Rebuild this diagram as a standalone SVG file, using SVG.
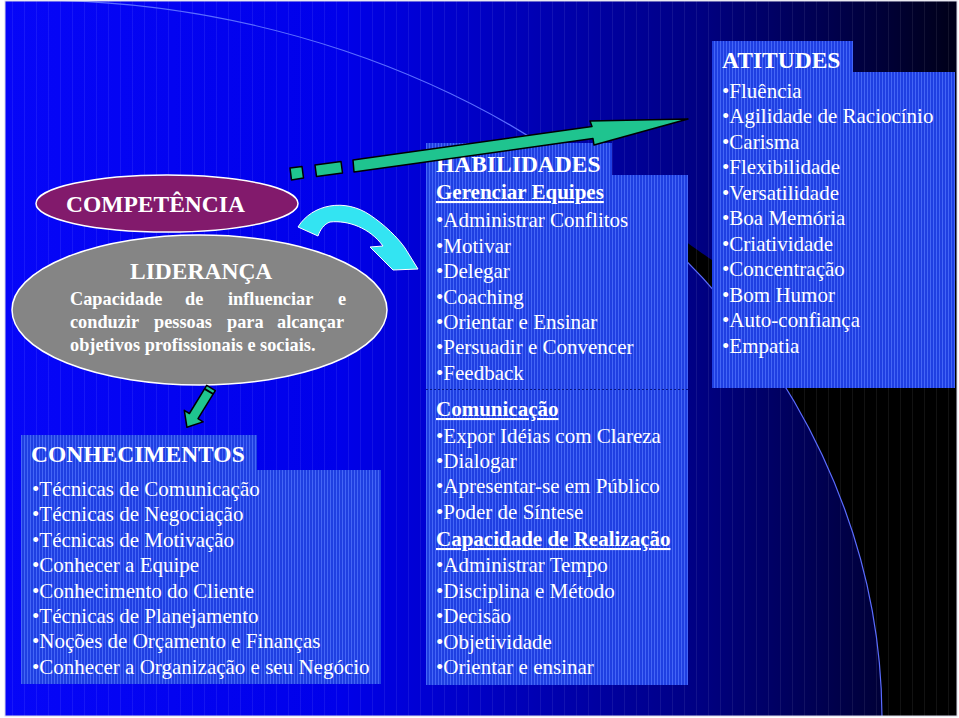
<svg xmlns="http://www.w3.org/2000/svg" width="959" height="718" viewBox="0 0 959 718">
<defs>
<linearGradient id="bg" x1="0" y1="0" x2="1" y2="0">
<stop offset="0" stop-color="#0606f8"/>
<stop offset="0.35" stop-color="#0000ea"/>
<stop offset="0.5" stop-color="#0000c4"/>
<stop offset="0.73" stop-color="#000082"/>
<stop offset="0.9" stop-color="#000040"/>
<stop offset="1" stop-color="#000018"/>
</linearGradient>
<pattern id="bgstripe" width="12" height="10" patternUnits="userSpaceOnUse">
<rect x="0" y="0" width="1" height="10" fill="#ffffff" fill-opacity="0.07"/>
</pattern>
<pattern id="boxfill" width="3" height="10" patternUnits="userSpaceOnUse">
<rect x="0" y="0" width="3" height="10" fill="#1f3fe2"/>
<rect x="0" y="0" width="1" height="10" fill="#4466f6"/>
</pattern>
<clipPath id="slide"><rect x="5" y="1" width="952" height="715"/></clipPath>
<style>
text{font-family:"Liberation Serif","Times New Roman",serif;fill:#ffffff}
.ttl{font-size:23.5px;font-weight:bold}
.it{font-size:21px}
.sub{font-size:21px;font-weight:bold;text-decoration:underline}
.lb{font-size:18.3px;font-weight:bold}
.box{fill:url(#boxfill)}
.grn{fill:#1fc48f;stroke:#000000;stroke-width:1.5;stroke-linejoin:round}
</style>
</defs>
<rect x="0" y="0" width="959" height="718" fill="#ffffff"/>
<g clip-path="url(#slide)">
<rect x="5" y="1" width="952" height="715" fill="url(#bg)"/>
<path d="M600,185 C650,215 690,245 712,260 C780,300 880,300 959,280 L959,718 L882,718 A852,720 0 0,0 600,185 Z" fill="#000000"/>
<rect x="5" y="1" width="952" height="715" fill="url(#bgstripe)"/>
<path d="M30,0 A852,720 0 0,1 882,720" fill="none" stroke="#5a6cff" stroke-width="1.2"/>
</g>
<rect x="5" y="1" width="952" height="715" fill="none" stroke="#d8d8e8" stroke-width="1"/>

<g id="conhecimentos">
<rect class="box" x="21" y="435" width="236" height="36"/>
<rect class="box" x="21" y="470" width="360" height="214"/>
<text class="ttl" x="31" y="462">CONHECIMENTOS</text>
<text class="it" x="32" y="496">•Técnicas de Comunicação</text>
<text class="it" x="32" y="521.4">•Técnicas de Negociação</text>
<text class="it" x="32" y="546.8">•Técnicas de Motivação</text>
<text class="it" x="32" y="572.2">•Conhecer a Equipe</text>
<text class="it" x="32" y="597.6">•Conhecimento do Cliente</text>
<text class="it" x="32" y="623">•Técnicas de Planejamento</text>
<text class="it" x="32" y="648.4">•Noções de Orçamento e Finanças</text>
<text class="it" x="32" y="673.8">•Conhecer a Organização e seu Negócio</text>
</g>

<g id="habilidades">
<rect class="box" x="426" y="143" width="186" height="33"/>
<rect class="box" x="426" y="175" width="262" height="510"/>
<line x1="426" y1="389.5" x2="688" y2="389.5" stroke="#0a1a80" stroke-width="1" stroke-dasharray="2,2"/>
<text class="ttl" x="436" y="172">HABILIDADES</text>
<text class="sub" x="436" y="199">Gerenciar Equipes</text>
<text class="it" x="436" y="227">•Administrar Conflitos</text>
<text class="it" x="436" y="252.5">•Motivar</text>
<text class="it" x="436" y="278">•Delegar</text>
<text class="it" x="436" y="303.5">•Coaching</text>
<text class="it" x="436" y="329">•Orientar e Ensinar</text>
<text class="it" x="436" y="354">•Persuadir e Convencer</text>
<text class="it" x="436" y="379.5">•Feedback</text>
<text class="sub" x="436" y="416">Comunicação</text>
<text class="it" x="436" y="442.5">•Expor Idéias com Clareza</text>
<text class="it" x="436" y="468">•Dialogar</text>
<text class="it" x="436" y="493">•Apresentar-se em Público</text>
<text class="it" x="436" y="518.5">•Poder de Síntese</text>
<text class="sub" x="436" y="546">Capacidade de Realização</text>
<text class="it" x="436" y="572">•Administrar Tempo</text>
<text class="it" x="436" y="597.5">•Disciplina e Método</text>
<text class="it" x="436" y="623">•Decisão</text>
<text class="it" x="436" y="648.5">•Objetividade</text>
<text class="it" x="436" y="674">•Orientar e ensinar</text>
</g>

<g id="atitudes">
<rect class="box" x="712" y="41" width="141" height="32"/>
<rect class="box" x="712" y="72" width="243" height="316"/>
<text class="ttl" x="722" y="68">ATITUDES</text>
<text class="it" x="722" y="97.5">•Fluência</text>
<text class="it" x="722" y="123">•Agilidade de Raciocínio</text>
<text class="it" x="722" y="148.5">•Carisma</text>
<text class="it" x="722" y="174">•Flexibilidade</text>
<text class="it" x="722" y="199.5">•Versatilidade</text>
<text class="it" x="722" y="225">•Boa Memória</text>
<text class="it" x="722" y="250.5">•Criatividade</text>
<text class="it" x="722" y="276">•Concentração</text>
<text class="it" x="722" y="301.5">•Bom Humor</text>
<text class="it" x="722" y="327">•Auto-confiança</text>
<text class="it" x="722" y="352.5">•Empatia</text>
</g>

<g id="lideranca">
<ellipse cx="199.5" cy="310" rx="187.5" ry="75" fill="#858585" stroke="#ffffff" stroke-width="1.5"/>
<text class="ttl" x="130" y="279">LIDERANÇA</text>
<text class="lb" y="305"><tspan x="70">Capacidade</tspan><tspan x="185">de</tspan><tspan x="228">influenciar</tspan><tspan x="338">e</tspan></text>
<text class="lb" y="328"><tspan x="70">conduzir</tspan><tspan x="154">pessoas</tspan><tspan x="227">para</tspan><tspan x="277">alcançar</tspan></text>
<text class="lb" x="70" y="351">objetivos profissionais e sociais.</text>
</g>

<g id="competencia">
<ellipse cx="167" cy="203.5" rx="131" ry="28.5" fill="#821a6c" stroke="#ffffff" stroke-width="1.5"/>
<text class="ttl" x="66" y="212">COMPETÊNCIA</text>
</g>

<g id="connectors">
<polygon class="grn" points="290,168 302,166.5 303.5,178 291.5,180"/>
<polygon class="grn" points="315,165 341,161.5 342.5,173 316.5,176.5"/>
<polygon class="grn" points="353,160 592,126.5 590,121 688,119 594,145 593,138.5 354,172"/>
<path d="M298,227 C312,204 345,198 370,215 C385,225 398,238 405,248 L418,269 L393,270 L370,247 L383,246 C370,228 348,220 330,222 C324,224 320,230 318,236 Z" fill="#33e4f2" stroke="#ffffff" stroke-width="1"/>
<polygon class="grn" points="206.7,385.4 215.3,390.6 198,418.7 203.1,421.9 186.9,427.2 184.3,410.3 189.4,413.5"/>
<line x1="204.6" y1="388.8" x2="213.2" y2="394" stroke="#000000" stroke-width="2"/>
</g>
</svg>
